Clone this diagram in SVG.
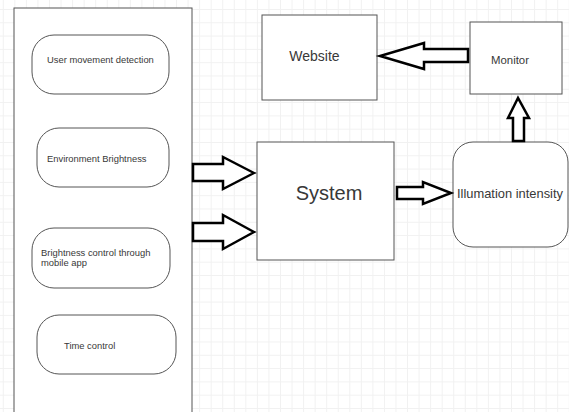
<svg xmlns="http://www.w3.org/2000/svg" width="569" height="412" viewBox="0 0 569 412">
<style>
.box{fill:#fff;stroke:#555;stroke-width:1}
.arr{fill:#fff;stroke:#000;stroke-width:2.5;stroke-linejoin:miter}
text{font-family:"Liberation Sans",Arial,sans-serif;fill:#383838}
</style>
<defs>
<pattern id="grid" x="2.8" y="9" width="11.55" height="13.3" patternUnits="userSpaceOnUse">
<path d="M0.5 0V13.3M0 0.5H11.55" fill="none" stroke="#f1f1f1" stroke-width="1"/>
</pattern>
</defs>
<rect width="569" height="412" fill="#fff"/>
<rect width="569" height="412" fill="url(#grid)"/>
<g id="container"><rect class="box" x="14" y="8" width="178" height="420"/></g>
<g id="user-movement"><rect class="box" x="32" y="35" width="137" height="59" rx="22"/><text x="47" y="63" font-size="9.4">User movement detection</text></g>
<g id="env-brightness"><rect class="box" x="37" y="128" width="132" height="59" rx="22"/><text x="47" y="162" font-size="9.4">Environment Brightness</text></g>
<g id="brightness-app"><rect class="box" x="32" y="228" width="138" height="60" rx="22"/><text x="41" y="256" font-size="9.4">Brightness control through</text><text x="41" y="266" font-size="9.4">mobile app</text></g>
<g id="time-control"><rect class="box" x="37" y="315" width="139" height="59" rx="22"/><text x="64" y="349" font-size="9.4">Time control</text></g>
<g id="system"><rect class="box" x="257" y="142" width="137" height="118"/><text x="329" y="200" font-size="20" text-anchor="middle">System</text></g>
<g id="website"><rect class="box" x="262" y="15" width="115" height="85"/><text x="314.5" y="61" font-size="14" text-anchor="middle">Website</text></g>
<g id="monitor"><rect class="box" x="470" y="22" width="92" height="72"/><text x="510" y="64" font-size="11.4" text-anchor="middle">Monitor</text></g>
<g id="illumination"><rect class="box" x="453" y="142" width="115" height="105" rx="20"/><text x="510" y="198" font-size="12.9" text-anchor="middle">Illumation intensity</text></g>
<g id="connectors">
<polygon class="arr" points="193,164 223,164 223,157 254,173 223,189 223,181 193,181"/>
<polygon class="arr" points="193,223 223,223 223,215 254,232 223,249 223,241 193,241"/>
<polygon class="arr" points="397,187 423,187 423,182 451,193 423,204 423,199 397,199"/>
<polygon class="arr" points="468,49 424,49 424,43 380,56 424,69 424,62 468,62"/>
<polygon class="arr" points="513,141 513,118 508,118 518,98 529,118 524,118 524,141"/>
</g>
</svg>
